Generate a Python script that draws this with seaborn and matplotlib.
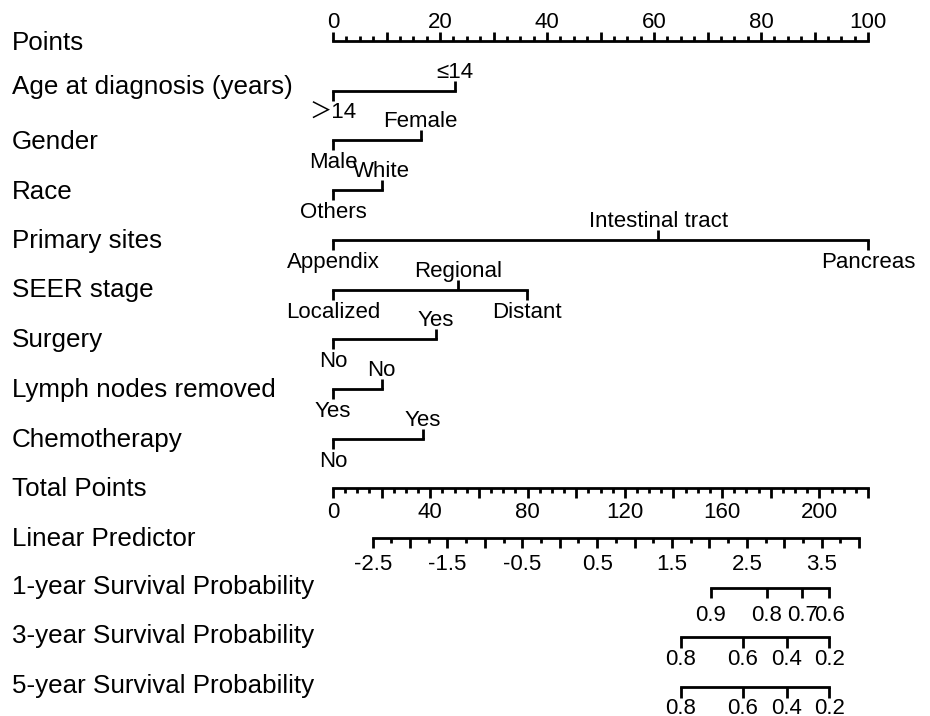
import numpy as np
import pandas as pd
import matplotlib
matplotlib.use("Agg")
import matplotlib.pyplot as plt
import seaborn as sns

# ---------------- data ----------------
row_labels = ["Points", "Age at diagnosis (years)", "Gender", "Race", "Primary sites",
              "SEER stage", "Surgery", "Lymph nodes removed", "Chemotherapy",
              "Total Points", "Linear Predictor", "1-year Survival Probability",
              "3-year Survival Probability", "5-year Survival Probability"]

age_levels = ["≤14", "＞14"]
age_points = [22.8, 0.0]
gender_levels = ["Female", "Male"]
gender_points = [16.4, 0.0]
race_levels = ["White", "Others"]
race_points = [9.1, 0.0]
site_levels = ["Appendix", "Intestinal tract", "Pancreas"]
site_points = [0.0, 60.8, 100.0]
stage_levels = ["Localized", "Regional", "Distant"]
stage_points = [0.0, 23.4, 36.2]
surgery_levels = ["No", "Yes"]
surgery_points = [0.0, 19.25]
lymph_levels = ["Yes", "No"]
lymph_points = [0.0, 9.1]
chemo_levels = ["No", "Yes"]
chemo_points = [0.0, 16.8]

points_ticks = np.arange(0, 100.01, 2.5)
points_labels = [0, 20, 40, 60, 80, 100]

total_max = 220
total_ticks = np.arange(0, 220.01, 5)
total_labels = [0, 40, 80, 120, 160, 200]

lp_ticks = np.arange(-2.5, 4.001, 0.25)
lp_labels = [-2.5, -1.5, -0.5, 0.5, 1.5, 2.5, 3.5]
lp_tp_at_zero = 93.25      # total points where linear predictor = 0
lp_tp_per_unit = 30.78     # total points per unit of linear predictor

surv1_labels = ["0.9", "0.8", "0.7", "0.6"]
surv1_total = [155.3, 178.3, 192.9, 204.0]
surv3_labels = ["0.8", "0.6", "0.4", "0.2"]
surv3_total = [143.1, 168.4, 186.7, 204.0]
surv5_labels = ["0.8", "0.6", "0.4", "0.2"]
surv5_total = [143.1, 168.4, 186.7, 204.0]

# ---------------- layout ----------------
W, H, DPI = 930, 716, 100
X0_PX, PX_PER_PT = 333.0, 5.35        # pixel of 0 points, pixels per point
ROW0_PX, ROW_PX = 41.0, 49.7          # pixel of first row, row spacing
LW = 2.0
FS_ROW, FS_VAL = 18.7, 16.0
ROW_LABEL_BASE_PX = [9, 3, 9, 9, 8, 8, 8, 8, 8, 8, 8, 6.5, 6, 6]
SURV_LABEL_GAP_PX = [17.0, 12.0, 10.5]

sns.set_theme(style="white")
plt.rcParams["font.family"] = ["Liberation Sans", "Noto Sans CJK SC", "DejaVu Sans"]
plt.rcParams["text.color"] = "black"

fig = plt.figure(figsize=(W / DPI, H / DPI), dpi=DPI)
ax = fig.add_axes([0, 0, 1, 1])


def dy(px):
    return px / ROW_PX


def tp_to_pts(tp):
    return np.asarray(tp, dtype=float) * 100.0 / total_max


def lp_to_pts(lp):
    return tp_to_pts(lp_tp_at_zero + lp_tp_per_unit * np.asarray(lp, dtype=float))


segs = []


def add_rule(row, x0, x1):
    segs.append({"x": x0, "y": row, "seg": row})
    segs.append({"x": x1, "y": row, "seg": row})


# Row labels
for r, lab in enumerate(row_labels):
    ax.text((12 - X0_PX) / PX_PER_PT, r + dy(ROW_LABEL_BASE_PX[r]), lab, fontsize=FS_ROW,
            ha="left", va="baseline", color="black")

# Points axis (row 0)
add_rule(0, 0, 100)
for t in points_ticks:
    tall = abs(t / 10 - round(t / 10)) < 1e-9
    ax.vlines(t, 0, -dy(9.5 if tall else 5), color="black", lw=LW)
for v in points_labels:
    ax.text(v, dy(-13), f"{v}", fontsize=FS_VAL, ha="center", va="baseline", color="black")

# Categorical rows
cat_rows = [(age_levels, age_points), (gender_levels, gender_points),
            (race_levels, race_points), (site_levels, site_points),
            (stage_levels, stage_points), (surgery_levels, surgery_points),
            (lymph_levels, lymph_points), (chemo_levels, chemo_points)]
for i, (levels, pts) in enumerate(cat_rows):
    r = i + 1
    add_rule(r, min(pts), max(pts))
    order = np.argsort(pts)
    for k, idx in enumerate(order):
        p = pts[idx]
        if k % 2 == 1:   # above
            ax.vlines(p, r, r - dy(10), color="black", lw=LW)
            ax.text(p, r - dy(13), levels[idx], fontsize=FS_VAL, ha="center",
                    va="baseline", color="black")
        else:            # below
            ax.vlines(p, r, r + dy(10), color="black", lw=LW)
            ax.text(p, r + dy(12), levels[idx], fontsize=FS_VAL, ha="center",
                    va="top", color="black")

# Total points (row 9)
r = 9
add_rule(r, 0, 100)
for t in total_ticks:
    tall = t % 20 == 0
    ax.vlines(tp_to_pts(t), r, r + dy(9.5 if tall else 4.5), color="black", lw=LW)
for v in total_labels:
    ax.text(tp_to_pts(v), r + dy(14), f"{v}", fontsize=FS_VAL, ha="center", va="top",
            color="black")

# Linear predictor (row 10)
r = 10
add_rule(r, float(lp_to_pts(lp_ticks[0])), float(lp_to_pts(lp_ticks[-1])))
for t in lp_ticks:
    tall = abs(t * 2 - round(t * 2)) < 1e-9
    ax.vlines(lp_to_pts(t), r, r + dy(10 if tall else 5), color="black", lw=LW)
for v in lp_labels:
    ax.text(lp_to_pts(v), r + dy(15.5), f"{v:.1f}", fontsize=FS_VAL, ha="center", va="top",
            color="black")

# Survival probabilities
for j, (r, labs, tps) in enumerate([(11, surv1_labels, surv1_total),
                                    (12, surv3_labels, surv3_total),
                                    (13, surv5_labels, surv5_total)]):
    xs = tp_to_pts(tps)
    add_rule(r, float(xs.min()), float(xs.max()))
    for x, lab in zip(xs, labs):
        ax.vlines(x, r, r + dy(10.5), color="black", lw=LW)
        ax.text(x, r + dy(SURV_LABEL_GAP_PX[j]), lab, fontsize=FS_VAL, ha="center",
                va="top", color="black")

df = pd.DataFrame(segs)
sns.lineplot(data=df, x="x", y="y", units="seg", estimator=None, sort=False,
             color="black", lw=LW, legend=False, ax=ax,
             solid_capstyle="projecting")

ax.set_xlim(-X0_PX / PX_PER_PT, (W - X0_PX) / PX_PER_PT)
ax.set_ylim((H - ROW0_PX) / ROW_PX, -ROW0_PX / ROW_PX)
ax.axis("off")

fig.savefig("out.png", dpi=DPI, facecolor="white")
